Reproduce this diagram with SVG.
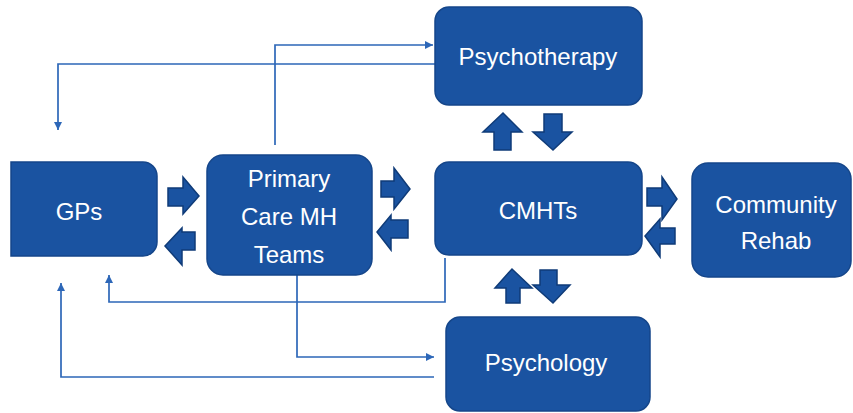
<svg xmlns="http://www.w3.org/2000/svg" width="853" height="413" viewBox="0 0 853 413">
  <defs>
    <style>
      .box { fill: #1a53a1; stroke: #15468a; stroke-width: 1.5; }
      .lbl { fill: #ffffff; font-family: "Liberation Sans", Arial, sans-serif; font-size: 24px; text-anchor: middle; }
      .blk { fill: #1a53a1; stroke: #0f3b78; stroke-width: 1.5; stroke-linejoin: miter; }
      .link { fill: none; stroke: #2d67b8; stroke-width: 1.7; }
    </style>
    <marker id="tip" viewBox="0 0 10 10" refX="10" refY="5" markerWidth="9" markerHeight="8" markerUnits="userSpaceOnUse" orient="auto">
      <path d="M0,0 L10,5 L0,10 Z" fill="#2d67b8"/>
    </marker>
  </defs>

  <rect width="853" height="413" fill="#ffffff"/>

  <!-- thin referral lines -->
  <g id="connectors">
    <path class="link" d="M275,145 V45 H433" marker-end="url(#tip)"/>
    <path class="link" d="M435,64 H58 V130" marker-end="url(#tip)"/>
    <path class="link" d="M445,258 V302 H109 V275" marker-end="url(#tip)"/>
    <path class="link" d="M297,275 V357 H434" marker-end="url(#tip)"/>
    <path class="link" d="M434,377 H61 V283" marker-end="url(#tip)"/>

    <!-- block arrows: GPs <-> Primary Care -->
    <path class="blk" d="M168,188 H183 V177 L199,196 L183,214 V206 H168 Z"/>
    <path class="blk" d="M195,232 H182 V228 L165,246 L182,265 V250 H195 Z"/>
    <!-- block arrows: Primary Care <-> CMHTs -->
    <path class="blk" d="M381,181 H394 V168 L410,189 L394,209 V197 H381 Z"/>
    <path class="blk" d="M408,220 H391 V215 L377,232 L391,250 V238 H408 Z"/>
    <!-- block arrows: CMHTs <-> Community Rehab -->
    <path class="blk" d="M647,188 H662 V177 L677,199 L662,220 V206 H647 Z"/>
    <path class="blk" d="M675,228 H660 V219 L645,236 L660,257 V244 H675 Z"/>
    <!-- block arrows: Psychotherapy <-> CMHTs -->
    <path class="blk" d="M494,150 V132 H483 L503,113 L522,132 H511 V150 Z"/>
    <path class="blk" d="M544,114 V132 H533 L553,150 L572,132 H562 V114 Z"/>
    <!-- block arrows: CMHTs <-> Psychology -->
    <path class="blk" d="M506,303 V288 H495 L512,269 L532,288 H520 V303 Z"/>
    <path class="blk" d="M540,270 V285 H533 L553,303 L570,285 H557 V270 Z"/>
  </g>

  <g id="psychotherapy">
    <rect class="box" x="435" y="7" width="207" height="98" rx="14"/>
    <text class="lbl" x="538" y="65" font-size="25">Psychotherapy</text>
  </g>

  <g id="gps">
    <path class="box" d="M11,162 H143 A14,14 0 0 1 157,176 V242 A14,14 0 0 1 143,256 H11 Z"/>
    <text class="lbl" x="79" y="220" font-size="22">GPs</text>
  </g>

  <g id="primary-care">
    <rect class="box" x="207" y="155" width="165" height="120" rx="16"/>
    <text class="lbl" x="289" y="187">Primary</text>
    <text class="lbl" x="289" y="225">Care MH</text>
    <text class="lbl" x="289" y="263">Teams</text>
  </g>

  <g id="cmhts">
    <rect class="box" x="435" y="162" width="207" height="93" rx="14"/>
    <text class="lbl" x="538" y="219" font-size="23">CMHTs</text>
  </g>

  <g id="community-rehab">
    <rect class="box" x="692" y="163" width="159" height="114" rx="16"/>
    <text class="lbl" x="776" y="213" font-size="25">Community</text>
    <text class="lbl" x="776" y="249">Rehab</text>
  </g>

  <g id="psychology">
    <rect class="box" x="446" y="317" width="204" height="94" rx="14"/>
    <text class="lbl" x="546" y="371">Psychology</text>
  </g>
</svg>
